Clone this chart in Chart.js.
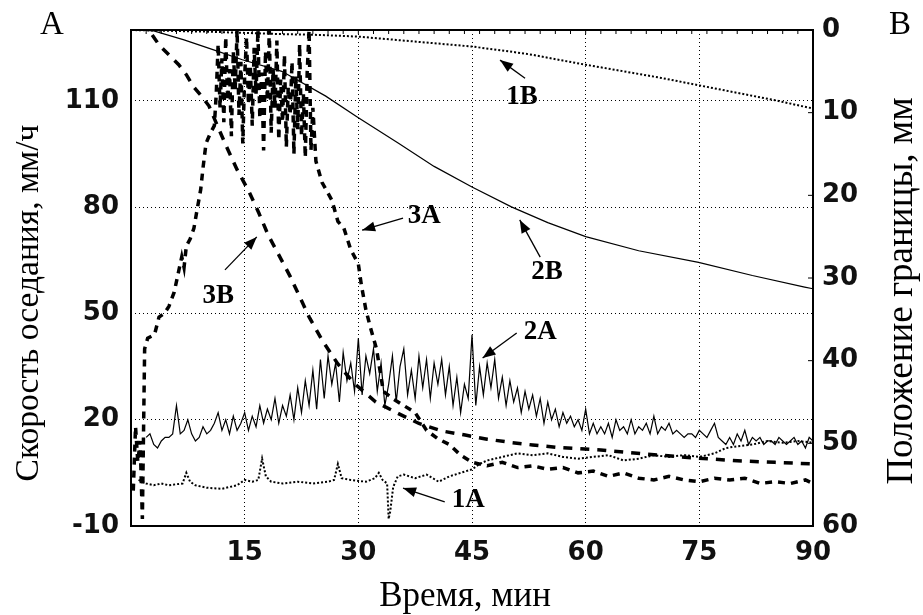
<!DOCTYPE html>
<html>
<head>
<meta charset="utf-8">
<script src="https://cdn.jsdelivr.net/npm/chart.js@4.4.1/dist/chart.umd.min.js"></script>
<style>
  html, body { margin: 0; padding: 0; background: #fff; }
  #wrap { width: 923px; height: 615px; }
</style>
</head>
<body>
<div id="wrap"><canvas id="graph"></canvas></div>
<script>
// ticks
const xTicks = [15, 30, 45, 60, 75, 90];
const leftTicks = [-10, 20, 50, 80, 110];
const rightTicks = [0, 10, 20, 30, 40, 50, 60];
const topMinor = [2, 4, 6, 8, 10, 12, 14, 16, 18, 20, 22, 24, 26, 28, 30, 32, 34, 36, 38, 40, 42, 44,
  46, 48, 50, 52, 54, 56, 58, 60, 62, 64, 66, 68, 70, 72, 74, 76, 78, 80, 82, 84, 86, 88];

// 1А - скорость (левая ось), точки
const t1A = [1, 1.5, 2, 3, 4, 5, 6, 6.8, 7.3, 7.8, 8.5, 10, 12, 14, 15, 16, 16.8, 17.3, 17.8, 18.5, 20, 22, 24, 26,
  26.8, 27.3, 27.8, 29, 31, 32.2, 32.7, 33.2, 33.8, 34.0, 34.2, 34.6, 35.2, 36, 37.5, 39, 40.6, 42, 43.5, 45, 46,
  47, 49, 51, 53, 55, 57, 59, 61, 63, 65, 67, 69, 71, 73, 75, 77, 78.5, 80, 82, 84, 86, 88, 90];
const v1A = [3, 2.5, 2, 1.5, 2, 1.5, 1.8, 2, 5, 2.5, 1.5, 0.8, 0.5, 1.5, 3, 2.5, 3, 9, 4, 2.5, 2, 2.5, 2, 2.5,
  3, 7.5, 3.5, 3, 2.5, 3.5, 5, 3, 2, -8, -6, 1, 4, 4.5, 3.5, 4.5, 2.5, 4, 5, 6, 7.5,
  8.5, 9.5, 10.5, 10, 10.5, 9.5, 9, 9.5, 10, 8.5, 9, 10, 9.5, 10, 9.5, 10.5, 12, 12.5, 13, 14, 13.5, 14, 13.5];

// 2А - скорость (левая ось), шаг 0.5 мин от 2 мин
const v2A = [
  15, 16, 13, 12, 14, 15, 15, 16, 24, 16,
  17, 20, 16, 14, 15, 18, 16, 17, 19, 22,
  17, 20, 16, 21, 17, 19, 22, 17, 21, 18,
  24, 19, 23, 20, 26, 19, 24, 21, 27, 20,
  29, 22, 31, 24, 34, 23, 37, 26, 38, 30,
  36, 25, 39, 31, 36, 28, 43, 27, 38, 33,
  40, 28, 36, 24, 30, 38, 25, 35, 40, 27,
  34, 26, 38, 29, 37, 26, 36, 30, 37, 27,
  35, 24, 32, 22, 30, 26, 44, 24, 35, 27,
  36, 29, 37, 26, 32, 24, 31, 25, 29, 22,
  28, 23, 27, 21, 26, 19, 25, 20, 23, 18,
  22, 19, 21, 18, 20, 17, 23, 16, 19, 16,
  18, 16, 19, 15, 20, 17, 18, 16, 20, 16,
  18, 17, 19, 16, 21, 16, 18, 17, 19, 16,
  17, 16, 15, 16, 16, 15, 17, 16, 15, 17,
  19, 15, 14, 13, 15, 13, 16, 14, 17, 13,
  15, 14, 15, 13, 14, 14, 13, 15, 14, 13,
  14, 15, 13, 14, 12, 15, 14];
const t2A = v2A.map((_, i) => 2 + i * 0.5);

// 3А - скорость (левая ось)
const t3A = [0.3, 0.6, 0.9, 1.2, 1.5, 1.8, 2.2, 3.1, 3.7, 4.4, 5.0, 5.7, 6.3, 6.7, 7.0, 7.3, 7.8, 8.3, 8.7, 9.2,
  9.5, 9.9, 10.5, 11.0,
  11.25, 11.5, 11.75, 12, 12.25, 12.5, 12.75, 13, 13.25, 13.5, 13.75, 14, 14.25, 14.5, 14.75, 15, 15.25, 15.5,
  15.75, 16, 16.25, 16.5, 16.75, 17, 17.25, 17.5, 17.75, 18, 18.25, 18.5, 18.75, 19, 19.25, 19.5, 19.75, 20,
  20.25, 20.5, 20.75, 21, 21.25, 21.5, 21.75, 22, 22.25, 22.5, 22.75, 23, 23.25, 23.5, 23.75, 24,
  24.4, 25.2, 26.5, 27.3, 28.1, 29, 30, 30.4, 31, 31.6, 32.4, 33.3, 34.5, 36, 37.5, 39, 40.5, 42, 43.5, 45,
  47, 49, 51, 53, 55, 57, 59, 61, 63, 65, 67, 69, 71, 73, 75, 77, 79, 81, 83, 85, 87, 89, 90];
const v3A = [0, 18, 8, 14, -8, 40, 43, 44, 49, 50, 52, 56, 62, 66, 63, 69, 71, 74, 79, 85,
  91, 98, 101, 103,
  112, 126, 108, 122, 104, 128, 110, 119, 100, 124, 113, 130, 106, 121, 98, 117, 128, 109,
  120, 103, 125, 112, 130, 105, 118, 96, 124, 110, 130, 101, 119, 108, 127, 99, 116, 104,
  123, 97, 114, 106, 121, 95, 117, 102, 126, 100, 112, 94, 118, 130, 96, 108,
  93, 87, 82, 76, 74, 68, 64, 58, 51, 46, 40, 28, 26, 24, 22, 17, 14.6, 13, 10, 8,
  7, 8, 6.5, 7, 6, 6.5, 5, 5.5, 4, 5, 3.5, 3, 4, 3, 2.5, 3.5, 3, 3.5, 2, 2.5, 2, 3, 2];

// 1В, 2В, 3В - положение границы (правая ось)
const t1B = [0, 10, 20, 25, 30, 35, 40, 45, 50, 53, 57, 60, 65, 70, 75, 80, 85, 90];
const v1B = [0, 0.2, 0.5, 0.6, 0.8, 1.2, 1.6, 2.0, 2.6, 3.0, 3.7, 4.2, 5.0, 5.8, 6.7, 7.6, 8.5, 9.5];

const t2B = [1, 3, 7, 11.2, 14.7, 19.9, 25.7, 29.8, 35.3, 40, 45, 50.2, 55, 60, 67, 74.9, 82, 88.9, 90];
const v2B = [0, 0.1, 1.2, 2.5, 3.6, 5.0, 8.0, 10.5, 13.7, 16.5, 19.0, 21.4, 23.3, 25.0, 26.7, 28.1, 29.7, 31.1, 31.3];

const t3B = [2.8, 3.7, 5, 6.3, 7.3, 8.2, 9.3, 10.3, 11.5, 12.7, 14.0, 15.6, 16.9, 18.1, 19.5, 21.0, 23.5, 25.2,
  27.3, 29.4, 32.3, 35.3, 38, 41, 44.1, 47, 50.2, 53, 56.4, 62, 68, 74.8, 80, 85, 90];
const v3B = [0.6, 1.8, 3.0, 4.2, 5.4, 6.8, 8.0, 9.2, 11.8, 14.3, 16.9, 19.6, 22.2, 24.8, 27.2, 29.8, 34.7, 37.5,
  40.4, 42.7, 45.0, 46.4, 47.6, 48.5, 49.0, 49.5, 49.9, 50.2, 50.5, 50.8, 51.3, 51.8, 52.1, 52.3, 52.5];

// подписи кривых: текст, позиция, стрелка (в единицах осей x / левой y)
const notes = [
  { text: '1А', at: [44.5, -2.7], from: [41.4, -3.2], to: [35.9, 0.7] },
  { text: '2А', at: [54.0, 44.8], from: [50.9, 44.5], to: [46.4, 37.4] },
  { text: '3А', at: [38.7, 77.5], from: [35.9, 76.9], to: [30.5, 73.5] },
  { text: '1В', at: [51.6, 111.1], from: [52.0, 116.4], to: [48.7, 121.5] },
  { text: '2В', at: [54.9, 61.7], from: [54.0, 65.9], to: [51.3, 76.4] },
  { text: '3В', at: [11.5, 54.9], from: [12.4, 62.3], to: [16.6, 71.6] }
];

const pts = (t, v) => t.map((x, i) => ({ x: x, y: v[i] }));

const tickFont = { family: '"DejaVu Sans", sans-serif', size: 26, weight: 'bold' };

function arrow(ctx, x1, y1, x2, y2) {
  const ang = Math.atan2(y2 - y1, x2 - x1);
  ctx.beginPath();
  ctx.moveTo(x1, y1);
  ctx.lineTo(x2, y2);
  ctx.stroke();
  ctx.beginPath();
  ctx.moveTo(x2, y2);
  ctx.lineTo(x2 - 13 * Math.cos(ang) + 5 * Math.sin(ang), y2 - 13 * Math.sin(ang) - 5 * Math.cos(ang));
  ctx.lineTo(x2 - 13 * Math.cos(ang) - 5 * Math.sin(ang), y2 - 13 * Math.sin(ang) + 5 * Math.cos(ang));
  ctx.closePath();
  ctx.fill();
}

const decor = {
  id: 'decor',
  afterDatasetsDraw(chart) {
    const { ctx, chartArea: a, scales } = chart;
    const sx = scales.x, sy = scales.y, sy2 = scales.y2;
    ctx.save();
    ctx.strokeStyle = '#000';
    ctx.fillStyle = '#000';
    ctx.lineWidth = 2;
    ctx.strokeRect(a.left, a.top, a.right - a.left, a.bottom - a.top);

    // мелкие риски сверху и справа
    ctx.lineWidth = 1;
    ctx.beginPath();
    topMinor.forEach(v => {
      const px = sx.getPixelForValue(v);
      ctx.moveTo(px, a.top);
      ctx.lineTo(px, a.top + 4);
    });
    rightTicks.forEach(v => {
      const py = sy2.getPixelForValue(v);
      ctx.moveTo(a.right - 5, py);
      ctx.lineTo(a.right, py);
    });
    ctx.stroke();

    // подписи кривых
    ctx.font = 'bold 27px "Liberation Serif", serif';
    ctx.textAlign = 'center';
    ctx.textBaseline = 'middle';
    notes.forEach(n => {
      ctx.fillText(n.text, sx.getPixelForValue(n.at[0]), sy.getPixelForValue(n.at[1]));
      ctx.lineWidth = 1.3;
      arrow(ctx, sx.getPixelForValue(n.from[0]), sy.getPixelForValue(n.from[1]),
        sx.getPixelForValue(n.to[0]), sy.getPixelForValue(n.to[1]));
    });

    // заголовки осей
    ctx.font = '35px "Liberation Serif", serif';
    ctx.fillText('Время, мин', (a.left + a.right) / 2 - 7, 597);
    ctx.save();
    ctx.translate(29, 303);
    ctx.rotate(-Math.PI / 2);
    ctx.font = '33.5px "Liberation Serif", serif';
    ctx.fillText('Скорость оседания, мм/ч', 0, 0);
    ctx.restore();
    ctx.save();
    ctx.translate(902, 291);
    ctx.rotate(-Math.PI / 2);
    ctx.font = '37px "Liberation Serif", serif';
    ctx.fillText('Положение границы, мм', 0, 0);
    ctx.restore();

    ctx.font = '33px "Liberation Serif", serif';
    ctx.fillText('А', 52, 25);
    ctx.fillText('В', 900, 25);
    ctx.restore();
  }
};

const ctx = document.getElementById('graph').getContext('2d');
const chart = new Chart(ctx, {
  type: 'line',
  data: {
    datasets: [
      { label: '1А', data: pts(t1A, v1A), yAxisID: 'y', borderColor: '#000', borderWidth: 2, borderDash: [2, 2] },
      { label: '2А', data: pts(t2A, v2A), yAxisID: 'y', borderColor: '#000', borderWidth: 1.2 },
      { label: '3А', data: pts(t3A, v3A), yAxisID: 'y', borderColor: '#000', borderWidth: 3.5, borderDash: [7, 6] },
      { label: '1В', data: pts(t1B, v1B), yAxisID: 'y2', borderColor: '#000', borderWidth: 2, borderDash: [2, 2] },
      { label: '2В', data: pts(t2B, v2B), yAxisID: 'y2', borderColor: '#000', borderWidth: 1.2 },
      { label: '3В', data: pts(t3B, v3B), yAxisID: 'y2', borderColor: '#000', borderWidth: 3.5, borderDash: [9, 8] }
    ]
  },
  options: {
    responsive: true,
    maintainAspectRatio: false,
    animation: false,
    layout: { padding: { top: 30, left: 0, right: 0, bottom: 0 } },
    elements: { point: { radius: 0 }, line: { tension: 0, fill: false } },
    plugins: { legend: { display: false }, tooltip: { enabled: false } },
    scales: {
      x: {
        type: 'linear', min: 0, max: 90,
        afterBuildTicks: s => { s.ticks = xTicks.map(v => ({ value: v })); },
        afterFit: s => { s.height = 89; },
        grid: { color: '#000', lineWidth: 1, drawTicks: false },
        border: { display: false, dash: [1, 3] },
        ticks: { font: tickFont, color: '#111', padding: 12, maxRotation: 0 }
      },
      y: {
        position: 'left', min: -10, max: 130,
        afterBuildTicks: s => { s.ticks = leftTicks.map(v => ({ value: v })); },
        afterFit: s => { s.width = 131; },
        grid: { color: '#000', lineWidth: 1, drawTicks: false },
        border: { display: false, dash: [1, 3] },
        ticks: { font: tickFont, color: '#111', padding: 12 }
      },
      y2: {
        position: 'right', min: 0, max: 60, reverse: true,
        afterBuildTicks: s => { s.ticks = rightTicks.map(v => ({ value: v })); },
        afterFit: s => { s.width = 110; },
        grid: { drawOnChartArea: false, drawTicks: false },
        border: { display: false },
        ticks: { font: tickFont, color: '#111', padding: 9 }
      }
    }
  },
  plugins: [decor]
});
</script>
</body>
</html>
